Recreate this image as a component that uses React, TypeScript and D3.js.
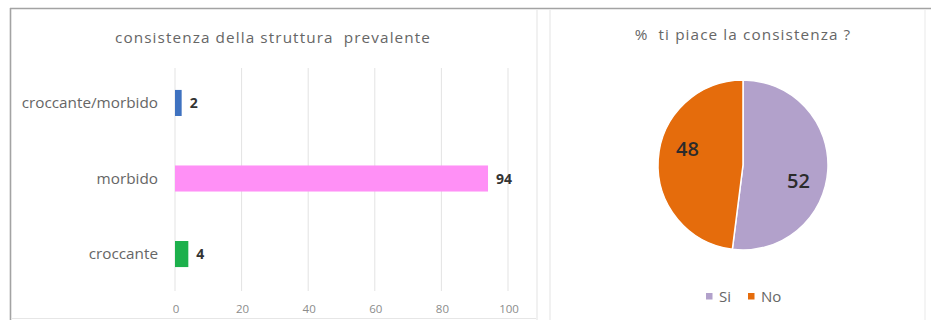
import React from "react";
import * as d3 from "d3";

// Bar chart: "consistenza della struttura prevalente"
const barCategories = ["croccante/morbido", "morbido", "croccante"];
const barValues = [2, 94, 4];
const barColors = ["#3f72c0", "#ff90f6", "#1db04c"];
const xTicks = [0, 20, 40, 60, 80, 100];

// Pie chart: "% ti piace la consistenza ?"
const pieLabels = ["Si", "No"];
const pieValues = [52, 48];
const pieColors = ["#b2a1cb", "#e56c0c"];

const W = 931;
const H = 320;
const FONT = "'Open Sans', 'Noto Sans', sans-serif";
const GREY = "#666666";

export default function App() {
  // bar chart scales
  const x = d3.scaleLinear().domain([0, 100]).range([175, 508]);
  const y = d3
    .scaleBand<string>()
    .domain(barCategories)
    .range([65, 292])
    .paddingInner(0.655)
    .paddingOuter(0.33);

  // pie chart layout
  const cx = 743;
  const cy = 165;
  const r = 85;
  const pie = d3
    .pie<number>()
    .sort(null)
    .value((d) => d);
  const arcs = pie(pieValues);
  const arc = d3.arc<d3.PieArcDatum<number>>().innerRadius(0).outerRadius(r);
  // data labels sit a little clockwise of each slice's middle
  const labelPos = (a: d3.PieArcDatum<number>): [number, number] => {
    const ang = (a.startAngle + a.endAngle) / 2 + 0.22;
    const rr = r * 0.68;
    return [Math.sin(ang) * rr, -Math.cos(ang) * rr];
  };

  return (
    <svg
      width={W}
      height={H}
      style={{ position: "absolute", left: 0, top: 0, background: "#fff" }}
      fontFamily={FONT}
    >
      <rect width={W} height={H} fill="#fff" />

      {/* frame lines */}
      <line x1={10} x2={W} y1={8.5} y2={8.5} stroke="#a3a3a3" strokeWidth={1.6} />
      <line x1={10.5} x2={10.5} y1={8} y2={H} stroke="#a3a3a3" strokeWidth={1.6} />
      <line x1={11} x2={536} y1={318.5} y2={318.5} stroke="#e6e6e6" />
      <line x1={537} x2={537} y1={10} y2={H} stroke="#ececec" strokeWidth={1.5} />
      <line x1={550} x2={550} y1={10} y2={H} stroke="#ececec" strokeWidth={1.5} />
      <line x1={925} x2={925} y1={10} y2={H} stroke="#f0f0f0" strokeWidth={1.5} />

      {/* bar chart */}
      <text
        x={273}
        y={43}
        textAnchor="middle"
        fontSize={15.3}
        letterSpacing={1.1}
        fill={GREY}
        xmlSpace="preserve"
      >
        consistenza della struttura  prevalente
      </text>
      {xTicks.map((t) => (
        <g key={t}>
          <line
            x1={x(t)}
            x2={x(t)}
            y1={68}
            y2={291}
            stroke="#e3e3e3"
            strokeWidth={1}
          />
          <text x={x(t) + 1} y={313} textAnchor="middle" fontSize={11.5} fill="#8c8c8c">
            {t}
          </text>
        </g>
      ))}
      {barCategories.map((c, i) => (
        <g key={c}>
          <text
            x={158}
            y={(y(c) ?? 0) + y.bandwidth() / 2}
            dy="0.35em"
            textAnchor="end"
            fontSize={15.3}
            fill={GREY}
          >
            {c}
          </text>
          <rect
            x={x(0)}
            y={y(c)}
            width={x(barValues[i]) - x(0)}
            height={y.bandwidth()}
            fill={barColors[i]}
          />
          <text
            x={x(barValues[i]) + 8}
            y={(y(c) ?? 0) + y.bandwidth() / 2}
            dy="0.36em"
            fontSize={14}
            fontWeight="bold"
            fill="#333"
          >
            {barValues[i]}
          </text>
        </g>
      ))}

      {/* pie chart */}
      <text
        x={743}
        y={40}
        textAnchor="middle"
        fontSize={15.3}
        letterSpacing={1.1}
        fill={GREY}
        xmlSpace="preserve"
      >
        %  ti piace la consistenza ?
      </text>
      <g transform={`translate(${cx},${cy})`}>
        {arcs.map((a, i) => (
          <path key={i} d={arc(a) ?? ""} fill={pieColors[i]} stroke="#fff" strokeWidth={1.5} />
        ))}
        {arcs.map((a, i) => {
          const [lx, ly] = labelPos(a);
          return (
            <text
              key={i}
              x={lx}
              y={ly}
              dy="0.36em"
              textAnchor="middle"
              fontSize={20}
              fontWeight={600}
              fill="#2b2b2b"
            >
              {pieValues[i]}
            </text>
          );
        })}
      </g>

      {/* pie legend */}
      {pieLabels.map((l, i) => {
        const lx = i === 0 ? 706 : 748;
        return (
          <g key={l}>
            <rect x={lx} y={293} width={6.5} height={6.5} fill={pieColors[i]} />
            <text x={lx + 13} y={296.5} dy="0.36em" fontSize={15} fill={GREY}>
              {l}
            </text>
          </g>
        );
      })}
    </svg>
  );
}
